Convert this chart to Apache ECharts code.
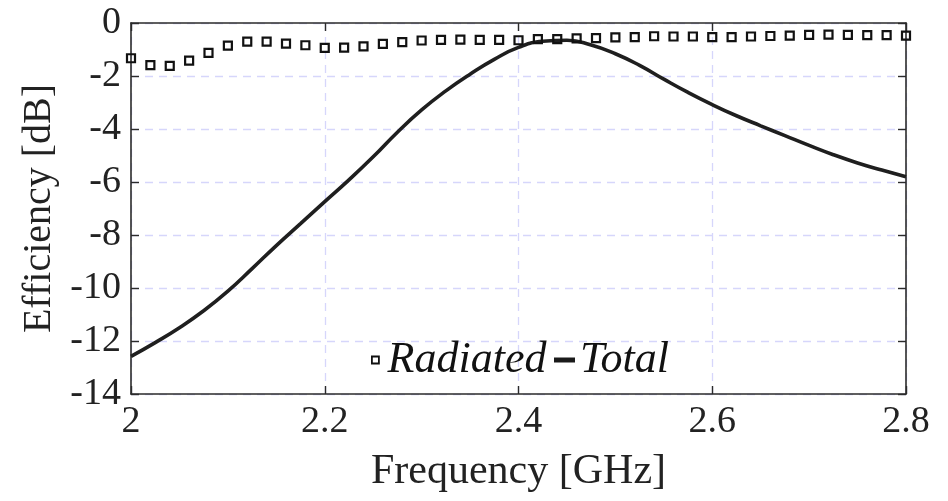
<!DOCTYPE html>
<html>
<head>
<meta charset="utf-8">
<script src="https://cdn.jsdelivr.net/npm/echarts@6/dist/echarts.min.js"></script>
<style>html,body{margin:0;padding:0;background:#fff}#c{width:948px;height:501px}</style>
</head>
<body>
<div id="c"></div>
<script>
// Radiated efficiency (square markers), every 0.02 GHz from 2.00 to 2.80
const radFreq = [2.00,2.02,2.04,2.06,2.08,2.10,2.12,2.14,2.16,2.18,2.20,2.22,2.24,2.26,2.28,2.30,2.32,2.34,2.36,2.38,2.40,2.42,2.44,2.46,2.48,2.50,2.52,2.54,2.56,2.58,2.60,2.62,2.64,2.66,2.68,2.70,2.72,2.74,2.76,2.78,2.80];
const radVals = [-1.33,-1.59,-1.62,-1.42,-1.13,-0.85,-0.70,-0.70,-0.78,-0.84,-0.94,-0.93,-0.88,-0.79,-0.72,-0.66,-0.64,-0.63,-0.64,-0.64,-0.65,-0.61,-0.61,-0.58,-0.57,-0.54,-0.53,-0.50,-0.51,-0.51,-0.53,-0.53,-0.51,-0.49,-0.48,-0.45,-0.44,-0.45,-0.46,-0.46,-0.48];
// Total efficiency (solid line), every 0.025 GHz
const totFreq = [2.00,2.025,2.05,2.075,2.10,2.125,2.15,2.175,2.20,2.225,2.25,2.275,2.30,2.325,2.35,2.375,2.40,2.425,2.45,2.475,2.50,2.525,2.55,2.575,2.60,2.625,2.65,2.675,2.70,2.725,2.75,2.775,2.80];
const totVals = [-12.58,-12.06,-11.5,-10.86,-10.12,-9.27,-8.4,-7.57,-6.74,-5.92,-5.05,-4.12,-3.28,-2.56,-1.93,-1.37,-0.92,-0.69,-0.65,-0.83,-1.16,-1.6,-2.12,-2.62,-3.08,-3.5,-3.88,-4.25,-4.62,-4.97,-5.28,-5.55,-5.8];
const xTicks = {min: 2, max: 2.8, interval: 0.2};
const yTicks = {min: -14, max: 0, interval: 2};
const seriesNames = ['Radiated', 'Total'];
const xName = 'Frequency [GHz]';
const yName = 'Efficiency [dB]';

const FONT = '"Liberation Serif", "Times New Roman", serif';
const AX = '#2b2b2b';
const gridDash = {show: true, lineStyle: {color: '#d6d6fb', width: 1.3, type: [8, 6]}};

const chart = echarts.init(document.getElementById('c'), null, {renderer: 'canvas'});
chart.setOption({
  animation: false,
  backgroundColor: '#fff',
  grid: {left: 131, right: 42, top: 23, bottom: 107, containLabel: false},
  legend: [
    {data: [seriesNames[0]], left: 366, top: 333, itemWidth: 7, itemHeight: 7, icon: 'rect',
     formatter: n => '\u200A' + n,
     itemStyle: {color: 'transparent', borderColor: '#111', borderWidth: 1.8},
     textStyle: {fontFamily: FONT, fontStyle: 'italic', fontSize: 44, color: '#111'}},
    {data: [seriesNames[1]], left: 549, top: 333, itemWidth: 21, itemHeight: 5, icon: 'rect',
     itemStyle: {color: '#1a1a1a'},
     textStyle: {fontFamily: FONT, fontStyle: 'italic', fontSize: 44, color: '#111'}}
  ],
  xAxis: [
    {type: 'value', position: 'bottom', min: xTicks.min, max: xTicks.max, interval: xTicks.interval,
     name: xName, nameLocation: 'middle', nameGap: 57,
     nameTextStyle: {fontFamily: FONT, fontSize: 42, color: '#222'},
     axisLine: {show: true, onZero: false, lineStyle: {color: AX, width: 1.6}},
     axisTick: {show: true, inside: true, length: 8, lineStyle: {color: AX, width: 1.4}},
     axisLabel: {fontFamily: FONT, fontSize: 38, color: '#222', margin: 9},
     splitLine: gridDash},
    {type: 'value', position: 'top', min: xTicks.min, max: xTicks.max, interval: xTicks.interval,
     axisLine: {show: true, onZero: false, lineStyle: {color: AX, width: 1.6}},
     axisTick: {show: true, inside: true, length: 8, lineStyle: {color: AX, width: 1.4}},
     axisLabel: {show: false}, splitLine: {show: false}}
  ],
  yAxis: [
    {type: 'value', position: 'left', min: yTicks.min, max: yTicks.max, interval: yTicks.interval,
     name: yName, nameLocation: 'middle', nameGap: 68, nameRotate: 90,
     nameTextStyle: {fontFamily: FONT, fontSize: 40, color: '#222'},
     axisLine: {show: true, onZero: false, lineStyle: {color: AX, width: 1.6}},
     axisTick: {show: true, inside: true, length: 8, lineStyle: {color: AX, width: 1.4}},
     axisLabel: {fontFamily: FONT, fontSize: 38, color: '#222', margin: 10},
     splitLine: gridDash},
    {type: 'value', position: 'right', min: yTicks.min, max: yTicks.max, interval: yTicks.interval,
     axisLine: {show: true, onZero: false, lineStyle: {color: AX, width: 1.6}},
     axisTick: {show: true, inside: true, length: 8, lineStyle: {color: AX, width: 1.4}},
     axisLabel: {show: false}, splitLine: {show: false}}
  ],
  series: [
    {name: seriesNames[1], type: 'line', xAxisIndex: 0, yAxisIndex: 0, smooth: 0.5,
     showSymbol: false, data: totFreq.map((f, i) => [f, totVals[i]]),
     lineStyle: {color: '#1f1f1f', width: 3.6}, itemStyle: {color: '#1f1f1f'}, z: 2},
    {name: seriesNames[0], type: 'scatter', xAxisIndex: 0, yAxisIndex: 0,
     symbol: 'rect', symbolSize: 8, data: radFreq.map((f, i) => [f, radVals[i]]),
     itemStyle: {color: 'transparent', borderColor: '#111', borderWidth: 2.2, opacity: 1}, z: 3}
  ]
});
</script>
</body>
</html>
